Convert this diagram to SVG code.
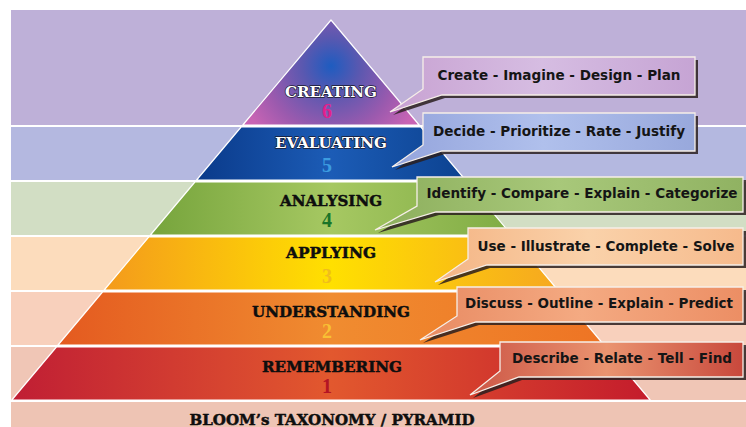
<svg xmlns="http://www.w3.org/2000/svg" width="746" height="427" viewBox="0 0 746 427">
  <defs>
    <radialGradient id="g6" gradientUnits="userSpaceOnUse" cx="331" cy="66" r="95">
      <stop offset="0" stop-color="#1e5cc0"/>
      <stop offset="0.3" stop-color="#5a58b0"/>
      <stop offset="0.7" stop-color="#9c5aae"/>
      <stop offset="1" stop-color="#c864b4"/>
    </radialGradient>
    <linearGradient id="g5" x1="0" y1="0" x2="1" y2="0">
      <stop offset="0" stop-color="#0a3a8a"/>
      <stop offset="0.5" stop-color="#1c5cb6"/>
      <stop offset="1" stop-color="#0c4290"/>
    </linearGradient>
    <linearGradient id="g4" x1="0" y1="0" x2="1" y2="0">
      <stop offset="0" stop-color="#76a43c"/>
      <stop offset="0.5" stop-color="#a6c862"/>
      <stop offset="1" stop-color="#80ac44"/>
    </linearGradient>
    <linearGradient id="g3" x1="0" y1="0" x2="1" y2="0">
      <stop offset="0" stop-color="#f49a1c"/>
      <stop offset="0.5" stop-color="#ffe000"/>
      <stop offset="1" stop-color="#f6a820"/>
    </linearGradient>
    <linearGradient id="g2" x1="0" y1="0" x2="1" y2="0">
      <stop offset="0" stop-color="#e45a20"/>
      <stop offset="0.5" stop-color="#f08c30"/>
      <stop offset="1" stop-color="#ee7424"/>
    </linearGradient>
    <linearGradient id="g1" x1="0" y1="0" x2="1" y2="0">
      <stop offset="0" stop-color="#c01e34"/>
      <stop offset="0.5" stop-color="#e2582e"/>
      <stop offset="1" stop-color="#c41c2c"/>
    </linearGradient>
    <linearGradient id="c1" x1="0" y1="0" x2="1" y2="0">
      <stop offset="0" stop-color="#c8a2d2"/>
      <stop offset="0.5" stop-color="#d6bde2"/>
      <stop offset="1" stop-color="#c6a4d4"/>
    </linearGradient>
    <linearGradient id="c2" x1="0" y1="0" x2="1" y2="0">
      <stop offset="0" stop-color="#94a4dc"/>
      <stop offset="0.5" stop-color="#b0c0ec"/>
      <stop offset="1" stop-color="#98a8dc"/>
    </linearGradient>
    <linearGradient id="c3" x1="0" y1="0" x2="1" y2="0">
      <stop offset="0" stop-color="#8cae5c"/>
      <stop offset="0.5" stop-color="#a8c87a"/>
      <stop offset="1" stop-color="#90b262"/>
    </linearGradient>
    <linearGradient id="c4" x1="0" y1="0" x2="1" y2="0">
      <stop offset="0" stop-color="#f4b484"/>
      <stop offset="0.5" stop-color="#fad2aa"/>
      <stop offset="1" stop-color="#f6ba8c"/>
    </linearGradient>
    <linearGradient id="c5" x1="0" y1="0" x2="1" y2="0">
      <stop offset="0" stop-color="#e88a62"/>
      <stop offset="0.5" stop-color="#f4aa82"/>
      <stop offset="1" stop-color="#ec8e64"/>
    </linearGradient>
    <linearGradient id="c6" x1="0" y1="0" x2="1" y2="0">
      <stop offset="0" stop-color="#cc5646"/>
      <stop offset="0.5" stop-color="#ea9470"/>
      <stop offset="1" stop-color="#c8483c"/>
    </linearGradient>
  </defs>
  <style>
    .band { stroke: none; }
    .sep { stroke: #ffffff; stroke-width: 2; }
    .layer { stroke: #ffffff; stroke-width: 1.2; stroke-linejoin: round; }
    .lbl { font-family: "DejaVu Serif", "Liberation Serif", serif; font-weight: bold; font-size: 14.5px; text-anchor: middle; }
    .ttl { font-size: 14px; }
    .dark { fill: #0e0e0e; stroke: #0e0e0e; stroke-width: 0.45; stroke-linejoin: round; }
    .light { fill: #ffffff; stroke: #1a1a30; stroke-width: 1.4; paint-order: stroke; stroke-linejoin: round; }
    .num { font-family: "Liberation Serif", "Times New Roman", serif; font-weight: bold; font-size: 20px; text-anchor: middle; }
    .shadow { fill: #2a1e1e; opacity: 0.85; }
    .box { stroke: #f6eee8; stroke-width: 1.3; stroke-linejoin: miter; }
    .ctext { font-family: "DejaVu Sans", Verdana, sans-serif; font-weight: bold; font-size: 13.5px; fill: #151515; text-anchor: middle; }
  </style>

  <rect x="0" y="0" width="746" height="427" fill="#ffffff"/>

  <g id="background">
    <rect class="band" x="11" y="10" width="735" height="116" fill="#beb0d8"/>
    <rect class="band" x="11" y="126" width="735" height="55" fill="#b4b8e0"/>
    <rect class="band" x="11" y="181" width="735" height="55" fill="#d2dec4"/>
    <rect class="band" x="11" y="236" width="735" height="55" fill="#fcdcbc"/>
    <rect class="band" x="11" y="291" width="735" height="55" fill="#f8d0bc"/>
    <rect class="band" x="11" y="346" width="735" height="55" fill="#f0c6b6"/>
    <rect class="band" x="11" y="401" width="735" height="26" fill="#eec4b4"/>
    <line class="sep" x1="11" y1="126" x2="746" y2="126"/>
    <line class="sep" x1="11" y1="181" x2="746" y2="181"/>
    <line class="sep" x1="11" y1="236" x2="746" y2="236"/>
    <line class="sep" x1="11" y1="291" x2="746" y2="291"/>
    <line class="sep" x1="11" y1="346" x2="746" y2="346"/>
    <line class="sep" x1="11" y1="401" x2="746" y2="401"/>
  </g>

  <g id="level-6">
    <polygon class="layer" points="331,20 419.2,125 242.8,125" fill="url(#g6)"/>
    <text class="lbl light" x="331" y="97" textLength="92" lengthAdjust="spacingAndGlyphs">CREATING</text>
    <text class="num" x="327" y="118" fill="#e2208c">6</text>
  </g>
  <g id="level-5">
    <polygon class="layer" points="241.1,127 420.9,127 465.4,180 196.6,180" fill="url(#g5)"/>
    <text class="lbl light" x="331" y="148" textLength="112" lengthAdjust="spacingAndGlyphs">EVALUATING</text>
    <text class="num" x="327" y="172" fill="#3c9ce0">5</text>
  </g>
  <g id="level-4">
    <polygon class="layer" points="194.9,182 467.1,182 511.6,235 150.4,235" fill="url(#g4)"/>
    <text class="lbl dark" x="331" y="206" textLength="102" lengthAdjust="spacingAndGlyphs">ANALYSING</text>
    <text class="num" x="327" y="227" fill="#1a7428">4</text>
  </g>
  <g id="level-3">
    <polygon class="layer" points="148.7,237 513.3,237 557.8,290 104.2,290" fill="url(#g3)"/>
    <text class="lbl dark" x="331" y="258" textLength="90" lengthAdjust="spacingAndGlyphs">APPLYING</text>
    <text class="num" x="327" y="283" fill="#f0bc1c">3</text>
  </g>
  <g id="level-2">
    <polygon class="layer" points="102.5,292 559.5,292 604,345 58,345" fill="url(#g2)"/>
    <text class="lbl dark" x="331" y="317" textLength="158" lengthAdjust="spacingAndGlyphs">UNDERSTANDING</text>
    <text class="num" x="327" y="338" fill="#f8c034">2</text>
  </g>
  <g id="level-1">
    <polygon class="layer" points="56.4,347 605.6,347 650.2,400 11.8,400" fill="url(#g1)"/>
    <text class="lbl dark" x="332" y="372" textLength="140" lengthAdjust="spacingAndGlyphs">REMEMBERING</text>
    <text class="num" x="327" y="393" fill="#b41424">1</text>
  </g>

  <g id="connectors"/>

  <g id="callout-6">
    <path class="shadow" transform="translate(3,3)" d="M423,57 H695 V95 H442 L390,112 L423,89 Z"/>
    <path class="box" d="M423,57 H695 V95 H442 L390,112 L423,89 Z" fill="url(#c1)"/>
    <text class="ctext" x="559" y="80" textLength="243" lengthAdjust="spacingAndGlyphs">Create - Imagine - Design - Plan</text>
  </g>
  <g id="callout-5">
    <path class="shadow" transform="translate(3,3)" d="M423,113 H695 V151 H442 L392,167 L423,145 Z"/>
    <path class="box" d="M423,113 H695 V151 H442 L392,167 L423,145 Z" fill="url(#c2)"/>
    <text class="ctext" x="559" y="136" textLength="252" lengthAdjust="spacingAndGlyphs">Decide - Prioritize - Rate - Justify</text>
  </g>
  <g id="callout-4">
    <path class="shadow" transform="translate(3,3)" d="M417,177 H743 V212 H436 L375,230 L417,206 Z"/>
    <path class="box" d="M417,177 H743 V212 H436 L375,230 L417,206 Z" fill="url(#c3)"/>
    <text class="ctext" x="582" y="198" textLength="311" lengthAdjust="spacingAndGlyphs">Identify - Compare - Explain - Categorize</text>
  </g>
  <g id="callout-3">
    <path class="shadow" transform="translate(3,3)" d="M468,228 H743 V265 H487 L435,282 L468,259 Z"/>
    <path class="box" d="M468,228 H743 V265 H487 L435,282 L468,259 Z" fill="url(#c4)"/>
    <text class="ctext" x="606" y="251" textLength="257" lengthAdjust="spacingAndGlyphs">Use - Illustrate - Complete - Solve</text>
  </g>
  <g id="callout-2">
    <path class="shadow" transform="translate(3,3)" d="M457,287 H743 V322 H476 L420,340 L457,316 Z"/>
    <path class="box" d="M457,287 H743 V322 H476 L420,340 L457,316 Z" fill="url(#c5)"/>
    <text class="ctext" x="599" y="308" textLength="268" lengthAdjust="spacingAndGlyphs">Discuss - Outline - Explain - Predict</text>
  </g>
  <g id="callout-1">
    <path class="shadow" transform="translate(3,3)" d="M500,342 H743 V377 H519 L470,395 L500,371 Z"/>
    <path class="box" d="M500,342 H743 V377 H519 L470,395 L500,371 Z" fill="url(#c6)"/>
    <text class="ctext" x="622" y="363" textLength="220" lengthAdjust="spacingAndGlyphs">Describe - Relate - Tell - Find</text>
  </g>

  <g id="title">
    <text class="lbl ttl dark" x="332" y="425" textLength="285" lengthAdjust="spacingAndGlyphs">BLOOM’s TAXONOMY / PYRAMID</text>
  </g>
</svg>
